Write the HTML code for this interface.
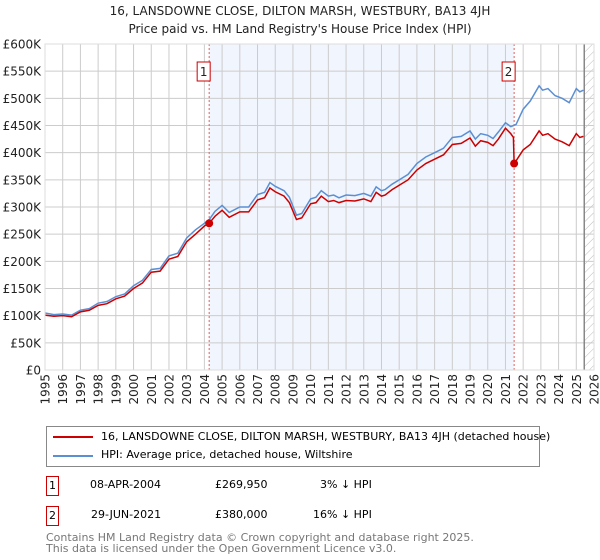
<!DOCTYPE html>
<html><head><meta charset="utf-8"><style>
body{margin:0;width:600px;height:560px;background:#fff;font-family:"DejaVu Sans","Liberation Sans",sans-serif;position:relative;overflow:hidden}
.t{position:absolute;width:600px;text-align:center;font-size:12px;color:#222;white-space:nowrap}
.leg{position:absolute;left:46px;top:426px;width:494px;height:41px;border:1px solid #888;box-sizing:border-box;font-size:11px;white-space:nowrap}
.row{position:absolute;left:0;font-size:11px;width:600px;height:20px;white-space:nowrap}
.num{position:absolute;left:46px;width:13px;height:20px;border:1px solid #c00;box-sizing:border-box;text-align:center;line-height:18px}
.foot{position:absolute;left:46px;font-size:11px;color:#777;line-height:11px;white-space:nowrap}
</style></head><body>
<div class="t" style="top:4px">16, LANSDOWNE CLOSE, DILTON MARSH, WESTBURY, BA13 4JH</div>
<div class="t" style="top:22px">Price paid vs. HM Land Registry's House Price Index (HPI)</div>
<svg id="chart" width="600" height="410" style="position:absolute;left:0;top:0;font-family:'DejaVu Sans',sans-serif"></svg>
<div class="leg">
 <div style="position:absolute;left:6px;top:9px;width:40px;height:2px;background:#c00"></div>
 <div style="position:absolute;left:54px;top:3px">16, LANSDOWNE CLOSE, DILTON MARSH, WESTBURY, BA13 4JH (detached house)</div>
 <div style="position:absolute;left:6px;top:28px;width:40px;height:2px;background:#5b8fd4"></div>
 <div style="position:absolute;left:54px;top:21px">HPI: Average price, detached house, Wiltshire</div>
</div>
<div class="row" style="top:476px">
 <div class="num">1</div><span style="position:absolute;left:90px;top:2px">08-APR-2004</span><span style="position:absolute;left:215px;top:2px">£269,950</span><span style="position:absolute;left:320px;top:2px">3% ↓ HPI</span></div>
<div class="row" style="top:506px">
 <div class="num">2</div><span style="position:absolute;left:91px;top:2px">29-JUN-2021</span><span style="position:absolute;left:215px;top:2px">£380,000</span><span style="position:absolute;left:313px;top:2px">16% ↓ HPI</span></div>
<div class="foot" style="top:532px">Contains HM Land Registry data © Crown copyright and database right 2025.<br>This data is licensed under the Open Government Licence v3.0.</div>
<script>
const hpiYears=[1995,1995.5,1996,1996.5,1997,1997.5,1998,1998.5,1999,1999.5,2000,2000.5,2001,2001.5,2002,2002.5,2003,2003.5,2004,2004.3,2004.6,2005,2005.4,2006,2006.5,2007,2007.4,2007.7,2008,2008.5,2008.8,2009.2,2009.5,2010,2010.3,2010.6,2011,2011.3,2011.6,2012,2012.5,2013,2013.4,2013.7,2014,2014.2,2014.6,2015,2015.5,2016,2016.5,2017,2017.5,2018,2018.5,2019,2019.3,2019.6,2020,2020.3,2020.6,2021,2021.3,2021.6,2022,2022.4,2022.9,2023.1,2023.4,2023.8,2024.2,2024.6,2025,2025.2,2025.4];
const hpiValues=[105,102,103,101,110,113,123,126,135,140,155,165,185,187,210,215,243,258,270,278,292,303,290,300,300,323,327,345,338,330,318,285,288,315,318,330,320,322,317,322,321,325,320,337,330,332,342,350,360,380,392,400,408,428,430,440,425,435,432,426,438,455,448,452,480,495,523,515,518,505,500,492,518,512,515];
const ppYears=[1995,1995.5,1996,1996.5,1997,1997.5,1998,1998.5,1999,1999.5,2000,2000.5,2001,2001.5,2002,2002.5,2003,2003.5,2004,2004.27,2004.6,2005,2005.4,2006,2006.5,2007,2007.4,2007.7,2008,2008.5,2008.8,2009.2,2009.5,2010,2010.3,2010.6,2011,2011.3,2011.6,2012,2012.5,2013,2013.4,2013.7,2014,2014.2,2014.6,2015,2015.5,2016,2016.5,2017,2017.5,2018,2018.5,2019,2019.3,2019.6,2020,2020.3,2020.6,2021,2021.3,2021.45,2021.49,2021.6,2022,2022.4,2022.9,2023.1,2023.4,2023.8,2024.2,2024.6,2025,2025.2,2025.4];
const ppValues=[101,99,100,98,107,110,119,122,131,136,150,160,180,182,204,209,236,250,265,269.95,283,294,281,291,291,313,317,335,328,320,308,277,280,306,308,320,310,312,308,312,311,315,310,327,320,322,332,340,350,368,380,388,396,415,417,427,412,422,419,413,425,445,435,428,380,385,405,415,440,432,435,425,420,413,435,428,430];
const yTicks=[0,50,100,150,200,250,300,350,400,450,500,550,600];
const yTickLabels=["£0","£50K","£100K","£150K","£200K","£250K","£300K","£350K","£400K","£450K","£500K","£550K","£600K"];
const xTicks=[1995,1996,1997,1998,1999,2000,2001,2002,2003,2004,2005,2006,2007,2008,2009,2010,2011,2012,2013,2014,2015,2016,2017,2018,2019,2020,2021,2022,2023,2024,2025,2026];
const sales=[{n:"1",year:2004.27,value:269.95},{n:"2",year:2021.49,value:380}];
const X0=45,X1=594,Y0=370,Y1=44,xmin=1995,xmax=2026,ymax=600,hatchStart=2025.45;
const x=v=>X0+(v-xmin)/(xmax-xmin)*(X1-X0);
const y=v=>Y0-v/ymax*(Y0-Y1);
const svg=document.getElementById('chart');const NS="http://www.w3.org/2000/svg";
function mk(t,a,p){const e=document.createElementNS(NS,t);for(const k in a)e.setAttribute(k,a[k]);(p||svg).appendChild(e);return e;}
const defs=mk('defs',{});
const pat=mk('pattern',{id:'hatch',width:6,height:6,patternUnits:'userSpaceOnUse',patternTransform:'rotate(45)'},defs);
mk('line',{x1:0,y1:0,x2:0,y2:6,stroke:'#bbb','stroke-width':1},pat);
const shade=mk('rect',{x:x(sales[0].year),y:Y1,width:x(sales[1].year)-x(sales[0].year),height:Y0-Y1,fill:'#eef3fc',opacity:0.8});

const hatch=mk('rect',{x:x(hatchStart),y:Y1,width:X1-x(hatchStart),height:Y0-Y1,fill:'url(#hatch)'});

yTicks.forEach((v,i)=>{const l=mk('line',{x1:X0,x2:X1,y1:y(v),y2:y(v),stroke:'#ccc','stroke-width':1});

const t=mk('text',{x:X0-4,y:y(v)+4.5,'text-anchor':'end','font-size':12,fill:'#222'});t.textContent=yTickLabels[i];
});
xTicks.forEach(v=>{const l=mk('line',{x1:x(v),x2:x(v),y1:Y1,y2:Y0,stroke:'#ccc','stroke-width':1});

const t=mk('text',{x:0,y:0,'text-anchor':'end','font-size':12,fill:'#222',transform:'translate('+(x(v)+4.5)+',374) rotate(-90)'});t.textContent=v;
});
const hl=mk('line',{x1:x(hatchStart),x2:x(hatchStart),y1:Y1,y2:Y0,stroke:'#888','stroke-width':1.5});

sales.forEach(s=>{const l=mk('line',{x1:x(s.year),x2:x(s.year),y1:Y1,y2:Y0,stroke:'#e06060','stroke-width':1,'stroke-dasharray':'2,2'});
});
const hp=mk('polyline',{points:hpiYears.map((a,i)=>x(a)+','+y(hpiValues[i])).join(' '),fill:'none',stroke:'#5b8fd4','stroke-width':1.5});

const pp=mk('polyline',{points:ppYears.map((a,i)=>x(a)+','+y(ppValues[i])).join(' '),fill:'none',stroke:'#cc0000','stroke-width':1.5});

sales.forEach(s=>{const c=mk('circle',{cx:x(s.year),cy:y(s.value),r:4,fill:'#cc0000'});

const b=mk('rect',{x:x(s.year)-12,y:62,width:13,height:19,fill:'#fff',stroke:'#cc0000','stroke-width':1});

const t=mk('text',{x:x(s.year)-5.5,y:76,'text-anchor':'middle','font-size':12,fill:'#222'});t.textContent=s.n;
});
const fr=mk('rect',{x:X0,y:Y1,width:X1-X0,height:Y0-Y1,fill:'none',stroke:'#ddd','stroke-width':1});

</script>
</body></html>
